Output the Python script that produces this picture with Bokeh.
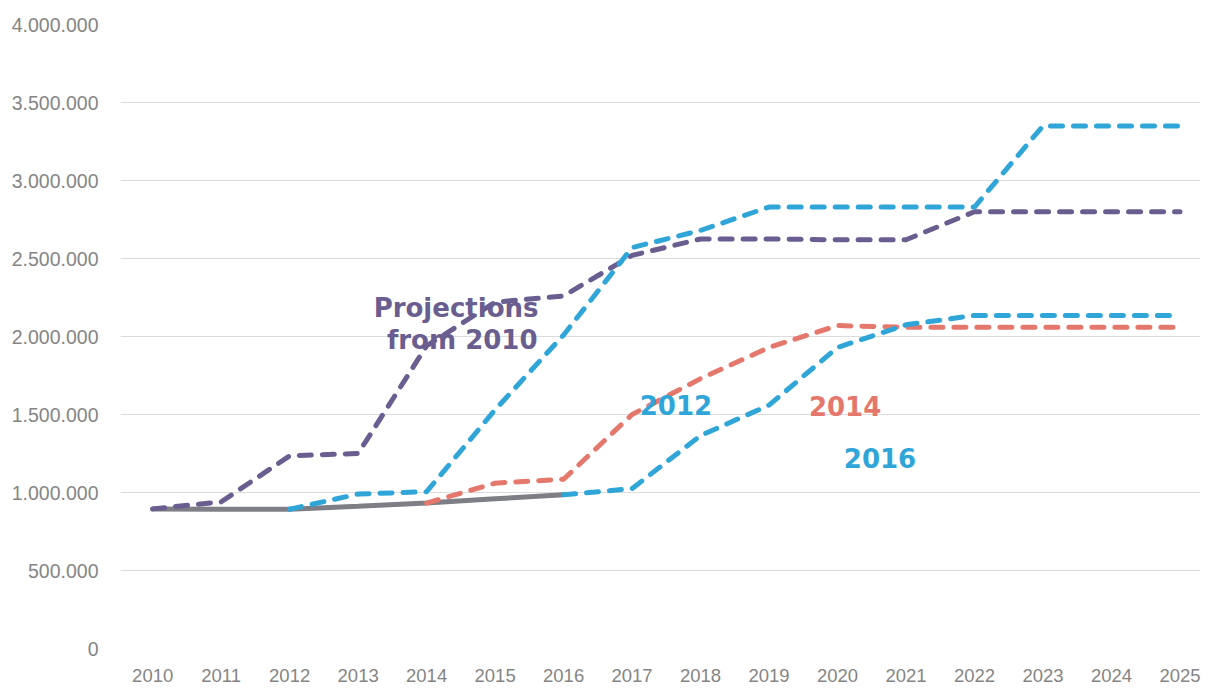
from bokeh.plotting import figure
from bokeh.models import Range1d, FixedTicker, Label
from bokeh.embed import file_html
from bokeh.resources import INLINE

# ---- data ----
years_all = list(range(2010, 2026))
x_tick_labels = [str(y) for y in years_all]

y_ticks = [0, 500000, 1000000, 1500000, 2000000, 2500000, 3000000, 3500000, 4000000]
y_tick_labels = ["0", "500.000", "1.000.000", "1.500.000", "2.000.000",
                 "2.500.000", "3.000.000", "3.500.000", "4.000.000"]

actual_years = [2010, 2011, 2012, 2013, 2014, 2015, 2016]
actual_values = [895000, 893000, 893000, 912000, 932000, 960000, 985000]

proj2010_years = list(range(2010, 2026))
proj2010_values = [895000, 940000, 1235000, 1250000, 1940000, 2220000, 2260000,
                   2520000, 2625000, 2625000, 2620000, 2620000, 2800000, 2800000,
                   2800000, 2800000]

proj2012_years = list(range(2012, 2026))
proj2012_values = [893000, 990000, 1005000, 1530000, 2010000, 2570000, 2680000,
                   2830000, 2830000, 2830000, 2830000, 3350000, 3350000, 3350000]

proj2014_years = list(range(2014, 2026))
proj2014_values = [932000, 1060000, 1085000, 1500000, 1730000, 1930000, 2070000,
                   2060000, 2060000, 2060000, 2060000, 2060000]

proj2016_years = list(range(2016, 2026))
proj2016_values = [985000, 1025000, 1365000, 1560000, 1930000, 2075000, 2135000,
                   2135000, 2135000, 2135000]

PURPLE = "#6a5d8f"
BLUE = "#2fa5d8"
SALMON = "#e5786c"
GREY = "#7d7e86"

p = figure(width=1209, height=688, output_backend="svg", toolbar_location=None,
           x_range=Range1d(2009.53, 2025.3), y_range=Range1d(0, 4000000),
           min_border_left=120, min_border_right=9, min_border_top=24,
           min_border_bottom=40)
p.outline_line_color = None
p.background_fill_color = "white"
p.border_fill_color = "white"

p.xgrid.grid_line_color = None
p.ygrid.grid_line_color = "#dcdcdc"
p.ygrid.grid_line_width = 1

# axes
p.xaxis.ticker = FixedTicker(ticks=years_all)
p.xaxis.major_label_overrides = {y: s for y, s in zip(years_all, x_tick_labels)}
p.yaxis.ticker = FixedTicker(ticks=y_ticks)
p.yaxis.major_label_overrides = {t: s for t, s in zip(y_ticks, y_tick_labels)}
for ax in (p.xaxis, p.yaxis):
    ax.axis_line_color = None
    ax.major_tick_line_color = None
    ax.minor_tick_line_color = None
    ax.major_tick_in = 0
    ax.major_tick_out = 0
    ax.minor_tick_in = 0
    ax.minor_tick_out = 0
    ax.major_label_text_font = "Liberation Sans"
    ax.major_label_text_color = "#858585"
p.yaxis.major_label_text_font_size = "19.5px"
p.xaxis.major_label_text_font_size = "18.5px"
p.yaxis.major_label_standoff = 22
p.xaxis.major_label_standoff = 20

dash = "12 11"
p.line(actual_years, actual_values, line_color=GREY, line_width=5, line_cap="round")
p.line(proj2010_years, proj2010_values, line_color=PURPLE, line_width=5,
       line_dash=dash, line_cap="round", line_join="round")
p.line(proj2012_years, proj2012_values, line_color=BLUE, line_width=5,
       line_dash=dash, line_cap="round", line_join="round")
p.line(proj2014_years, proj2014_values, line_color=SALMON, line_width=5,
       line_dash=dash, line_cap="round", line_join="round")
p.line(proj2016_years, proj2016_values, line_color=BLUE, line_width=5,
       line_dash=dash, line_cap="round", line_join="round")

FONT = "DejaVu Sans"
def lab(x, y, text, color):
    p.add_layout(Label(x=x, y=y, text=text, text_font=FONT, text_font_size="26px",
                       text_font_style="bold", text_color=color,
                       text_align="center", text_baseline="middle"))

lab(2014.43, 2180000, "Projections", PURPLE)
lab(2014.52, 1975000, "from 2010", PURPLE)
lab(2017.64, 1560000, "2012", BLUE)
lab(2020.11, 1552000, "2014", SALMON)
lab(2020.62, 1222000, "2016", BLUE)

open("out.html", "w").write(file_html(p, INLINE))
